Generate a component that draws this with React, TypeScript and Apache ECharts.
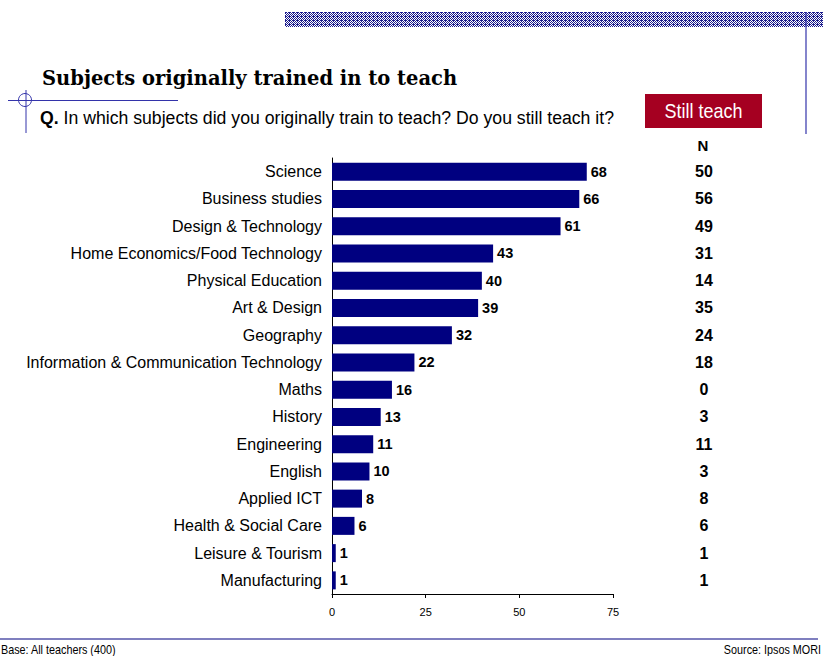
import React, { useEffect, useRef } from "react";
import * as echarts from "echarts";

const categories = [
  "Science",
  "Business studies",
  "Design & Technology",
  "Home Economics/Food Technology",
  "Physical Education",
  "Art & Design",
  "Geography",
  "Information & Communication Technology",
  "Maths",
  "History",
  "Engineering",
  "English",
  "Applied ICT",
  "Health & Social Care",
  "Leisure & Tourism",
  "Manufacturing",
];
const trainedValues = [68, 66, 61, 43, 40, 39, 32, 22, 16, 13, 11, 10, 8, 6, 1, 1];
const stillTeachN = [50, 56, 49, 31, 14, 35, 24, 18, 0, 3, 11, 3, 8, 6, 1, 1];
const xTicks = [0, 25, 50, 75];

const SANS = "'Liberation Sans', Arial, sans-serif";
const NAVY = "#000080";

function makePattern(): HTMLCanvasElement {
  const c = document.createElement("canvas");
  c.width = 4;
  c.height = 4;
  const ctx = c.getContext("2d")!;
  ctx.fillStyle = "#ffffff";
  ctx.fillRect(0, 0, 4, 4);
  ctx.fillStyle = "#1a1a8c";
  const px = [
    [0, 0], [1, 0], [2, 0],
    [1, 1], [3, 1],
    [0, 2], [2, 2],
    [1, 3], [3, 3],
  ];
  px.forEach(([x, y]) => ctx.fillRect(x, y, 1, 1));
  return c;
}

export default function App() {
  const ref = useRef<HTMLDivElement>(null);
  useEffect(() => {
    if (!ref.current) return;
    const chart = echarts.init(ref.current, undefined, { renderer: "svg" });
    const pattern = makePattern();
    chart.setOption({
      animation: false,
      backgroundColor: "#ffffff",
      grid: { left: 332, right: 210, top: 158, height: 436, containLabel: false },
      xAxis: {
        type: "value",
        min: xTicks[0],
        max: xTicks[xTicks.length - 1],
        interval: 25,
        splitLine: { show: false },
        axisLine: { show: true, lineStyle: { color: "#000", width: 1 } },
        axisTick: { show: true, length: 4, lineStyle: { color: "#000" } },
        axisLabel: { color: "#000", fontSize: 11, fontFamily: SANS, margin: 12 },
      },
      yAxis: [
        {
          type: "category",
          data: categories,
          inverse: true,
          axisLine: { show: true, lineStyle: { color: "#000", width: 1 } },
          axisTick: { show: false },
          axisLabel: { color: "#000", fontSize: 16, fontFamily: SANS, margin: 10 },
        },
        {
          type: "category",
          data: stillTeachN.map(String),
          inverse: true,
          position: "right",
          axisLine: { show: false },
          axisTick: { show: false },
          axisLabel: {
            color: "#000",
            fontSize: 16,
            fontWeight: "bold",
            fontFamily: SANS,
            margin: 91,
            align: "center",
          },
        },
      ],
      series: [
        {
          type: "bar",
          data: trainedValues,
          barWidth: 18,
          itemStyle: { color: NAVY },
          label: {
            show: true,
            position: "right",
            distance: 4,
            color: "#000",
            fontSize: 14.5,
            fontWeight: "bold",
            fontFamily: SANS,
          },
        },
      ],
      graphic: [
        {
          type: "rect",
          shape: { x: 285, y: 12, width: 540, height: 15 },
          style: { fill: { image: pattern, repeat: "repeat" } as any },
          silent: true,
        },
        {
          type: "line",
          shape: { x1: 806, y1: 12, x2: 806, y2: 134 },
          style: { stroke: "#3333aa", lineWidth: 1.2 },
        },
        {
          type: "text",
          x: 42,
          y: 78,
          style: {
            text: "Subjects originally trained in to teach",
            font: "bold 19.5px 'DejaVu Serif', serif",
            fill: "#000",
            verticalAlign: "middle",
          },
        },
        {
          type: "line",
          shape: { x1: 8, y1: 100.5, x2: 178, y2: 100.5 },
          style: { stroke: "#3333aa", lineWidth: 1 },
        },
        {
          type: "line",
          shape: { x1: 26, y1: 90, x2: 26, y2: 133 },
          style: { stroke: "#3333aa", lineWidth: 1 },
        },
        {
          type: "circle",
          shape: { cx: 25, cy: 100, r: 6.5 },
          style: { stroke: "#3333aa", fill: "none", lineWidth: 1 },
        },
        {
          type: "text",
          x: 40,
          y: 117,
          scaleX: 0.93,
          style: {
            text: "{b|Q.} In which subjects did you originally train to teach? Do you still teach it?",
            font: "19px " + SANS,
            fill: "#000",
            verticalAlign: "middle",
            rich: {
              b: { fontWeight: "bold", fontSize: 19, fontFamily: SANS, fill: "#000" } as any,
            },
          } as any,
        },
        {
          type: "rect",
          shape: { x: 645, y: 94, width: 117, height: 34 },
          style: { fill: "#a50021" },
        },
        {
          type: "text",
          x: 703.5,
          y: 111,
          scaleX: 0.9,
          style: {
            text: "Still teach",
            font: "20px " + SANS,
            fill: "#ffffff",
            align: "center",
            verticalAlign: "middle",
          },
        },
        {
          type: "text",
          x: 703,
          y: 145,
          style: {
            text: "N",
            font: "bold 15px " + SANS,
            fill: "#000",
            align: "center",
            verticalAlign: "middle",
          },
        },
        {
          type: "line",
          shape: { x1: 0, y1: 639, x2: 818, y2: 639 },
          style: { stroke: NAVY, lineWidth: 1.2 },
        },
        {
          type: "text",
          x: 1,
          y: 650,
          scaleX: 0.9,
          style: {
            text: "Base: All teachers (400)",
            font: "12px " + SANS,
            fill: "#000",
            verticalAlign: "middle",
          },
        },
        {
          type: "text",
          x: 821,
          y: 650,
          scaleX: 0.9,
          style: {
            text: "Source: Ipsos MORI",
            font: "12px " + SANS,
            fill: "#000",
            align: "right",
            verticalAlign: "middle",
          },
        },
      ],
    });
    return () => chart.dispose();
  }, []);
  return (
    <div
      ref={ref}
      style={{ position: "absolute", left: 0, top: 0, width: 823, height: 656 }}
    />
  );
}
